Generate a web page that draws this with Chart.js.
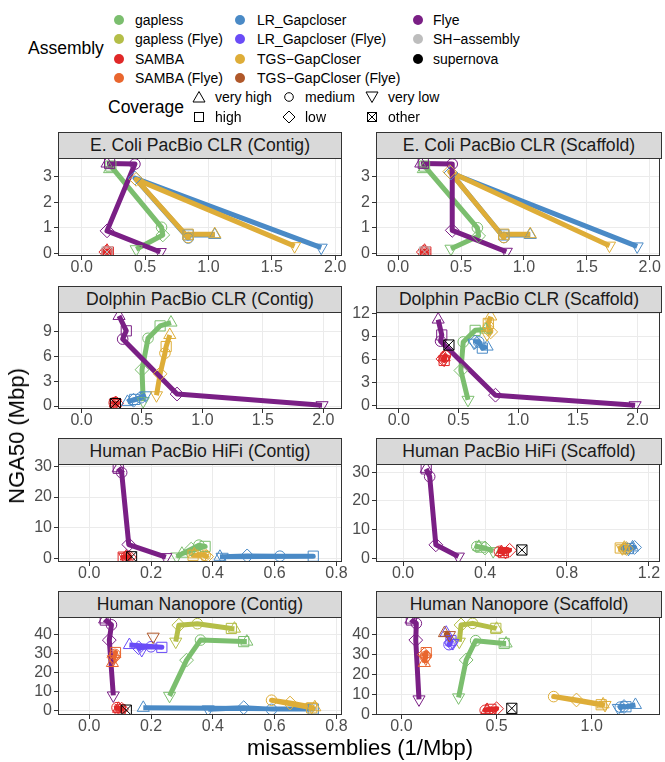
<!DOCTYPE html>
<html><head><meta charset="utf-8">
<script src="https://cdn.jsdelivr.net/npm/chart.js@4/dist/chart.umd.min.js"></script>
<style>
html,body{margin:0;padding:0;background:#fff;}
body{width:665px;height:762px;overflow:hidden;font-family:"Liberation Sans",Arial,Helvetica,sans-serif;}
#root{position:relative;width:665px;height:762px;overflow:hidden;}
.abs{position:absolute;white-space:nowrap;}
.strip{position:absolute;background:#D9D9D9;border:1px solid #333;box-sizing:border-box;color:#1A1A1A;font-size:17.6px;text-align:center;}
canvas{position:absolute;}
</style></head><body><div id="root"></div>
<script>
// ---------- data ----------
const coverageLevels = ['very high', 'high', 'medium', 'low', 'very low'];
const assemblyNames = ['gapless', 'gapless (Flye)', 'SAMBA', 'SAMBA (Flye)', 'LR_Gapcloser', 'LR_Gapcloser (Flye)', 'TGS-GapCloser', 'TGS-GapCloser (Flye)', 'Flye', 'SH-assembly', 'supernova'];
const assemblyLabels = ['gapless', 'gapless (Flye)', 'SAMBA', 'SAMBA (Flye)', 'LR_Gapcloser', 'LR_Gapcloser (Flye)', 'TGS\u2212GapCloser', 'TGS\u2212GapCloser (Flye)', 'Flye', 'SH\u2212assembly', 'supernova'];
const assemblyColors = ['#7BBE6E', '#B4BE48', '#E02828', '#E9662E', '#4A8AC6', '#6A4CF7', '#DEAD38', '#B0582A', '#7A1F85', '#BDBDBD', '#000000'];
const panelTitles = ['E. Coli PacBio CLR (Contig)', 'E. Coli PacBio CLR (Scaffold)', 'Dolphin PacBio CLR (Contig)', 'Dolphin PacBio CLR (Scaffold)', 'Human PacBio HiFi (Contig)', 'Human PacBio HiFi (Scaffold)', 'Human Nanopore (Contig)', 'Human Nanopore (Scaffold)'];

// rows: [assembly, misassemblies (1/Mbp) per coverage level, NGA50 (Mbp) per coverage level]
const ecoliContig = [
  ['gapless',       [0.22, 0.23, 0.63, 0.64, 0.43], [3.30, 3.42, 1.02, 0.72, 0.16]],
  ['SAMBA',         [0.20, 0.21, 0.20, 0.19, 0.20], [0.10, 0.05, 0.08, 0.05, 0.03]],
  ['LR_Gapcloser',  [1.05, 0.84, 0.84, 0.42, 1.89], [0.72, 0.72, 0.60, 2.95, 0.22]],
  ['TGS-GapCloser', [1.05, 0.84, 0.84, 0.43, 1.68], [0.75, 0.75, 0.62, 2.90, 0.28]],
  ['Flye',          [0.20, 0.22, 0.42, 0.20, 0.62], [3.52, 3.52, 3.50, 0.88, 0.05]]
];
const ecoliScaffold = [
  ['gapless',       [0.20, 0.21, 0.63, 0.64, 0.42], [3.30, 3.42, 1.00, 0.68, 0.18]],
  ['SAMBA',         [0.21, 0.22, 0.21, 0.20, 0.21], [0.10, 0.05, 0.08, 0.05, 0.03]],
  ['LR_Gapcloser',  [1.05, 0.84, 0.84, 0.42, 1.90], [0.72, 0.72, 0.62, 3.15, 0.27]],
  ['TGS-GapCloser', [1.05, 0.84, 0.84, 0.41, 1.68], [0.75, 0.75, 0.62, 3.20, 0.30]],
  ['Flye',          [0.18, 0.20, 0.43, 0.43, 0.86], [3.52, 3.52, 3.50, 0.90, 0.06]]
];
const dolphinContig = [
  ['gapless',       [0.74, 0.65, 0.55, 0.50, 0.51], [10.1, 9.7, 8.2, 4.4, 0.6]],
  ['SAMBA',         [0.28, 0.28, 0.27, 0.29, 0.28], [0.35, 0.30, 0.40, 0.30, 0.35]],
  ['LR_Gapcloser',  [0.38, 0.44, 0.49, 0.43, 0.53], [0.5, 0.8, 1.0, 0.7, 1.3]],
  ['TGS-GapCloser', [0.73, 0.70, 0.69, 0.65, 0.62], [8.6, 7.2, 6.4, 3.9, 1.3]],
  ['Flye',          [0.31, 0.37, 0.34, 0.79, 1.99], [10.9, 9.1, 8.1, 1.45, 0.1]]
];
const dolphinScaffold = [
  ['gapless',       [0.73, 0.64, 0.54, 0.52, 0.58], [9.9, 9.8, 8.3, 4.6, 0.8]],
  ['SAMBA',         [0.38, 0.38, 0.39, 0.37, 0.38], [6.3, 5.9, 6.5, 6.1, 6.0]],
  ['LR_Gapcloser',  [0.74, 0.70, 0.67, 0.64, 0.63], [7.7, 7.5, 8.3, 8.3, 8.2]],
  ['TGS-GapCloser', [0.77, 0.75, 0.75, 0.77, 0.74], [11.6, 10.7, 10.3, 9.6, 9.3]],
  ['Flye',          [0.33, 0.36, 0.35, 0.81, 1.98], [11.2, 9.2, 8.4, 1.4, 0.1]]
];
const hifiContig = [
  ['gapless',       [0.30, 0.375, 0.355, 0.33, 0.283], [1.5, 3.9, 4.3, 3.0, 0.6]],
  ['SAMBA',         [0.12, 0.11, 0.12, 0.13, 0.115], [0.6, 0.4, 0.5, 0.4, 0.5]],
  ['LR_Gapcloser',  [0.423, 0.725, 0.617, 0.511, 0.43], [0.5, 0.7, 0.7, 0.8, 0.5]],
  ['TGS-GapCloser', [0.34, 0.336, 0.375, 0.38, 0.37], [1.3, 1.0, 1.0, 0.6, 0.8]],
  ['Flye',          [0.094, 0.094, 0.105, 0.128, 0.248], [29.4, 29.4, 28.0, 4.5, 0.4]]
];
const hifiScaffold = [
  ['gapless',       [0.37, 0.38, 0.36, 0.40, 0.44], [4.0, 3.9, 4.1, 3.6, 2.5]],
  ['SAMBA',         [0.48, 0.49, 0.47, 0.52, 0.50], [2.2, 2.0, 2.4, 2.8, 2.2]],
  ['LR_Gapcloser',  [1.12, 1.10, 1.09, 1.13, 1.10], [3.8, 3.4, 3.5, 3.8, 3.3]],
  ['TGS-GapCloser', [1.08, 1.06, 1.08, 1.09, 1.07], [3.7, 3.6, 3.3, 3.4, 3.5]],
  ['Flye',          [0.113, 0.113, 0.13, 0.16, 0.27], [31.2, 31.2, 28.5, 4.7, 0.6]]
];
const nanoContig = [
  ['gapless',              [0.51, 0.50, 0.36, 0.315, 0.26], [36.2, 36.2, 37.0, 26.5, 7.8]],
  ['gapless (Flye)',       [0.47, 0.46, 0.35, 0.29, 0.28], [43.0, 43.1, 45.6, 44.8, 36.2]],
  ['SAMBA',                [0.095, 0.10, 0.09, 0.105, 0.10], [1.0, 0.5, 1.6, 0.8, 0.3]],
  ['SAMBA (Flye)',         [0.075, 0.085, 0.083, 0.08, 0.078], [25.0, 30.5, 29.5, 28.0, 27.0]],
  ['LR_Gapcloser',         [0.175, 0.725, 0.59, 0.50, 0.385], [1.5, 0.9, 0.7, 1.6, 0.7]],
  ['LR_Gapcloser (Flye)',  [0.13, 0.235, 0.20, 0.16, 0.17], [34.4, 33.2, 33.5, 33.0, 31.8]],
  ['TGS-GapCloser',        [0.73, 0.72, 0.59, 0.65, 0.72], [1.8, 1.5, 5.5, 4.0, 2.0]],
  ['TGS-GapCloser (Flye)', [null, null, null, null, 0.207], [null, null, null, null, 38.8]],
  ['Flye',                 [0.05, 0.052, 0.072, 0.065, 0.078], [47.8, 47.5, 45.0, 37.0, 8.0]]
];
const nanoScaffold = [
  ['gapless',              [0.55, 0.54, 0.39, 0.34, 0.30], [35.6, 35.6, 37.0, 27.3, 8.5]],
  ['gapless (Flye)',       [0.50, 0.496, 0.374, 0.313, 0.304], [43.0, 43.2, 45.7, 44.9, 36.5]],
  ['SAMBA',                [0.45, 0.47, 0.44, 0.50, 0.48], [2.2, 2.5, 2.0, 2.8, 1.8]],
  ['SAMBA (Flye)',         [0.12, 0.13, 0.125, 0.12, 0.128], [25.8, 31.0, 29.0, 30.0, 28.0]],
  ['LR_Gapcloser',         [1.23, 1.18, 1.15, 1.17, 1.14], [4.7, 3.8, 3.6, 3.9, 3.2]],
  ['LR_Gapcloser (Flye)',  [0.235, 0.26, 0.25, 0.26, 0.27], [41.0, 37.0, 35.0, 36.0, 35.8]],
  ['TGS-GapCloser',        [1.06, 1.05, 0.80, 0.92, 1.07], [5.0, 4.8, 8.9, 7.2, 4.7]],
  ['TGS-GapCloser (Flye)', [0.226, null, null, null, 0.252], [40.8, null, null, null, 39.8]],
  ['Flye',                 [0.05, 0.052, 0.078, 0.075, 0.092], [47.6, 47.4, 45.7, 37.3, 7.5]]
];
// coverage "other": [assembly, misassemblies, NGA50]
const ecoliContigOther = [['SH-assembly', 0.20, 0.05]];
const ecoliScaffoldOther = [['SH-assembly', 0.21, 0.05]];
const dolphinContigOther = [['supernova', 0.28, 0.3]];
const dolphinScaffoldOther = [['supernova', 0.42, 7.9]];
const hifiContigOther = [['supernova', 0.137, 0.5]];
const hifiScaffoldOther = [['supernova', 0.58, 2.9]];
const nanoContigOther = [['supernova', 0.12, 0.3]];
const nanoScaffoldOther = [['supernova', 0.58, 3.0]];

// tick labels
const xTicksCLR = [0, 0.5, 1.0, 1.5, 2.0];
const xTicksHifiContig = [0, 0.2, 0.4, 0.6, 0.8];
const xTicksHifiScaffold = [0, 0.4, 0.8, 1.2];
const xTicksNanoContig = [0, 0.2, 0.4, 0.6, 0.8];
const xTicksNanoScaffold = [0, 0.5, 1.0];
const yTicksEcoli = [0, 1, 2, 3];
const yTicksDolphinContig = [0, 3, 6, 9];
const yTicksDolphinScaffold = [0, 3, 6, 9, 12];
const yTicksHifi = [0, 10, 20, 30];
const yTicksNano = [0, 10, 20, 30, 40];

// ---------- rendering ----------
const FONT = '"Liberation Sans", Arial, Helvetica, sans-serif';
Chart.defaults.font.family = FONT;
const root = document.getElementById('root');

const panels = [
  {rows: ecoliContig, other: ecoliContigOther, xr: [-0.187, 2.054], yr: [-0.106, 3.737], xt: xTicksCLR, yt: yTicksEcoli},
  {rows: ecoliScaffold, other: ecoliScaffoldOther, xr: [-0.176, 2.08], yr: [-0.106, 3.737], xt: xTicksCLR, yt: yTicksEcoli},
  {rows: dolphinContig, other: dolphinContigOther, xr: [-0.195, 2.155], yr: [-0.36, 11.38], xt: xTicksCLR, yt: yTicksDolphinContig},
  {rows: dolphinScaffold, other: dolphinScaffoldOther, xr: [-0.191, 2.187], yr: [-0.39, 12.18], xt: xTicksCLR, yt: yTicksDolphinScaffold},
  {rows: hifiContig, other: hifiContigOther, xr: [-0.101, 0.818], yr: [-1.2, 30.8], xt: xTicksHifiContig, yt: yTicksHifi},
  {rows: hifiScaffold, other: hifiScaffoldOther, xr: [-0.132, 1.253], yr: [-1.29, 32.9], xt: xTicksHifiScaffold, yt: yTicksHifi},
  {rows: nanoContig, other: nanoContigOther, xr: [-0.101, 0.818], yr: [-2.25, 49.1], xt: xTicksNanoContig, yt: yTicksNano},
  {rows: nanoScaffold, other: nanoScaffoldOther, xr: [-0.134, 1.358], yr: [-0.35, 48.9], xt: xTicksNanoScaffold, yt: yTicksNano}
];

const rowPlotTop = [158, 312, 464, 617];
const rowPlotBottom = [256, 409, 562, 715];
const colPlotLeft = [58, 376];
const colPlotRight = [342, 662];
const AXW = 58, AXH = 26, PADT = 10;

const shapeStyle = ['triangle', 'rect', 'circle', 'rectRot', 'triangle'];
const shapeRot = [0, 0, 0, 0, 180];
const shapeRad = [7, 7.2, 5.3, 6.9, 7];

function colorOf(name) { return assemblyColors[assemblyNames.indexOf(name)]; }

function buildDatasets(rows, others) {
  const lines = [], pts = [];
  rows.forEach(([name, xs, ys]) => {
    const color = colorOf(name);
    const idx = [];
    xs.forEach((x, i) => { if (x != null && ys[i] != null) idx.push(i); });
    const data = idx.map(i => ({x: xs[i], y: ys[i]}));
    lines.push({data, showLine: true, borderColor: color, borderWidth: 5, pointRadius: 0, pointHoverRadius: 0,
      borderJoinStyle: 'round', borderCapStyle: 'butt', tension: 0, fill: false});
    pts.push({data, showLine: false, borderColor: color, backgroundColor: 'rgba(0,0,0,0)',
      pointStyle: idx.map(i => shapeStyle[i]), pointRotation: idx.map(i => shapeRot[i]),
      pointRadius: idx.map(i => shapeRad[i]), pointHoverRadius: idx.map(i => shapeRad[i]),
      pointBorderWidth: 1, pointBorderColor: color, pointBackgroundColor: 'rgba(0,0,0,0)'});
  });
  others.forEach(([name, x, y]) => {
    const color = colorOf(name);
    pts.push({data: [{x, y}], showLine: false, pointStyle: 'rect', pointRadius: 7.2, pointBorderWidth: 1,
      pointBorderColor: color, pointBackgroundColor: 'rgba(0,0,0,0)'});
    pts.push({data: [{x, y}], showLine: false, pointStyle: 'crossRot', pointRadius: 7.2, pointBorderWidth: 1,
      pointBorderColor: color, pointBackgroundColor: 'rgba(0,0,0,0)'});
  });
  // Chart.js draws the first dataset on top; reverse so later layers are on top
  return lines.concat(pts).reverse();
}

const borderPlugin = {
  id: 'panelBorder',
  afterDraw(chart) {
    const a = chart.chartArea, ctx = chart.ctx;
    ctx.save();
    ctx.strokeStyle = '#333333';
    ctx.lineWidth = 1;
    ctx.strokeRect(Math.round(a.left) + 0.5, Math.round(a.top) + 0.5, Math.round(a.right - a.left) - 1, Math.round(a.bottom - a.top) - 1);
    ctx.restore();
  }
};

function decimalsOf(ticks) {
  return ticks.some(v => Math.abs(v - Math.round(v)) > 1e-9) ? 1 : 0;
}

panels.forEach((p, i) => {
  const col = i % 2, row = Math.floor(i / 2);
  const plotTop = rowPlotTop[row], plotBottom = rowPlotBottom[row];
  const plotLeft = colPlotLeft[col], plotRight = colPlotRight[col];
  const canvasLeft = plotLeft - AXW;
  const padRight = col === 0 ? 18 : 6;
  const cw = (plotRight - plotLeft) + AXW + padRight;
  const ch = (plotBottom - plotTop) + PADT + AXH;
  const cv = document.createElement('canvas');
  cv.width = cw; cv.height = ch;
  cv.style.left = canvasLeft + 'px';
  cv.style.top = (plotTop - PADT) + 'px';
  cv.style.width = cw + 'px'; cv.style.height = ch + 'px';
  root.appendChild(cv);
  const xd = decimalsOf(p.xt) || 1;
  const yd = decimalsOf(p.yt);
  new Chart(cv.getContext('2d'), {
    type: 'scatter',
    data: {datasets: buildDatasets(p.rows, p.other)},
    options: {
      responsive: false, animation: false, devicePixelRatio: 1,
      layout: {padding: {top: PADT, right: padRight, left: 0, bottom: 0}},
      plugins: {legend: {display: false}, tooltip: {enabled: false}},
      events: [],
      scales: {
        x: {
          type: 'linear', min: p.xr[0], max: p.xr[1],
          afterBuildTicks: s => { s.ticks = p.xt.map(v => ({value: v})); },
          afterFit: s => { s.height = AXH; },
          ticks: {autoSkip: false, maxRotation: 0, color: '#4D4D4D', padding: 0,
            font: {size: 16, family: FONT, lineHeight: 1},
            callback: v => Number(v).toFixed(xd)},
          grid: {color: '#EBEBEB', lineWidth: 1, tickColor: '#333333', tickLength: 4, drawTicks: true},
          border: {display: false}
        },
        y: {
          type: 'linear', min: p.yr[0], max: p.yr[1],
          afterBuildTicks: s => { s.ticks = p.yt.map(v => ({value: v})); },
          afterFit: s => { s.width = AXW; },
          ticks: {autoSkip: false, color: '#4D4D4D', padding: 2,
            font: {size: 16, family: FONT, lineHeight: 1},
            callback: v => Number(v).toFixed(yd)},
          grid: {color: '#EBEBEB', lineWidth: 1, tickColor: '#333333', tickLength: 4, drawTicks: true},
          border: {display: false}
        }
      }
    },
    plugins: [borderPlugin]
  });
  const st = document.createElement('div');
  st.className = 'strip';
  st.style.left = plotLeft + 'px';
  st.style.top = (plotTop - 26) + 'px';
  st.style.width = (plotRight - plotLeft) + 'px';
  st.style.height = '27px';
  st.style.lineHeight = '25px';
  st.textContent = panelTitles[i];
  root.appendChild(st);
});

// axis titles
function addText(txt, left, top, size, extra) {
  const d = document.createElement('div');
  d.className = 'abs';
  d.style.left = left + 'px'; d.style.top = top + 'px';
  d.style.fontSize = size + 'px'; d.style.lineHeight = size + 'px';
  d.style.color = '#000';
  if (extra) Object.assign(d.style, extra);
  d.textContent = txt;
  root.appendChild(d);
  return d;
}
addText('misassemblies (1/Mbp)', 360, 737, 22, {transform: 'translateX(-50%)'});
addText('NGA50 (Mbp)', 17, 436, 22, {transform: 'translate(-50%,-50%) rotate(-90deg)', transformOrigin: '50% 50%', left: '17px'});

// legend: Assembly
addText('Assembly', 28, 40, 17.5);
const legCols = [{dot: 119, text: 135}, {dot: 240, text: 257}, {dot: 418, text: 433}];
const legRows = [20, 39.3, 58.5, 77.7];
const legOrder = [[0, 1, 2, 3], [4, 5, 6, 7], [8, 9, 10]];
legOrder.forEach((idxs, c) => {
  idxs.forEach((ai, r) => {
    const cy = legRows[r];
    const dot = document.createElement('div');
    dot.className = 'abs';
    Object.assign(dot.style, {left: (legCols[c].dot - 5) + 'px', top: (cy - 5) + 'px', width: '10px', height: '10px', borderRadius: '50%', background: assemblyColors[ai]});
    root.appendChild(dot);
    addText(assemblyLabels[ai], legCols[c].text, cy - 8, 14, {lineHeight: '16px', color: '#000'});
  });
});

// legend: Coverage
addText('Coverage', 108, 99, 17.5);
function shapeSVG(kind) {
  const s = 'fill="none" stroke="#000" stroke-width="1"';
  let body = '';
  if (kind === 'very high') body = `<polygon points="7,1.5 13,12 1,12" ${s}/>`;
  if (kind === 'high') body = `<rect x="2.5" y="2.5" width="9" height="9" ${s}/>`;
  if (kind === 'medium') body = `<circle cx="7" cy="7" r="4.3" ${s}/>`;
  if (kind === 'low') body = `<polygon points="7,1 13,7 7,13 1,7" ${s}/>`;
  if (kind === 'very low') body = `<polygon points="1,2 13,2 7,12.5" ${s}/>`;
  if (kind === 'other') body = `<rect x="2.5" y="2.5" width="9" height="9" ${s}/><path d="M2.5,2.5 L11.5,11.5 M11.5,2.5 L2.5,11.5" ${s}/>`;
  return `<svg width="14" height="14" viewBox="0 0 14 14" xmlns="http://www.w3.org/2000/svg">${body}</svg>`;
}
const covItems = [
  ['very high', 199, 97], ['medium', 289, 97], ['very low', 372, 97],
  ['high', 199, 117], ['low', 289, 117], ['other', 372, 117]
];
covItems.forEach(([k, x, y]) => {
  const d = document.createElement('div');
  d.className = 'abs';
  d.style.left = (x - 7) + 'px'; d.style.top = (y - 7) + 'px';
  d.style.width = '14px'; d.style.height = '14px';
  d.innerHTML = shapeSVG(k);
  root.appendChild(d);
  addText(k, x + 16, y - 8, 14, {lineHeight: '16px'});
});
</script>
</body></html>
